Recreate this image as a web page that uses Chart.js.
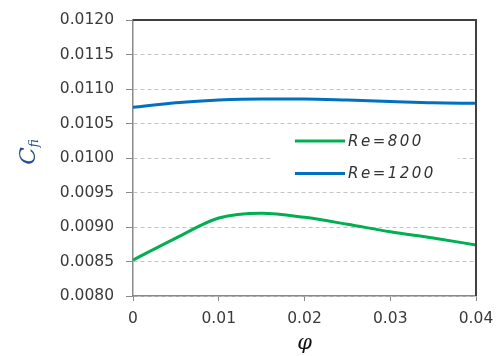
<!DOCTYPE html>
<html>
<head>
<meta charset="utf-8">
<script src="https://cdn.jsdelivr.net/npm/chart.js@4.4.1/dist/chart.umd.min.js"></script>
<style>
  html, body { margin: 0; padding: 0; background: #fff; }
  #wrap { width: 497px; height: 356px; position: relative; }
</style>
</head>
<body>
<div id="wrap"><canvas id="chart"></canvas></div>
<script>
// значения
const phi = [0, 0.005, 0.01, 0.015, 0.02, 0.025, 0.03, 0.035, 0.04];
const re800 = [0.00852, 0.00884, 0.00913, 0.00920, 0.00914, 0.00904, 0.00893, 0.00884, 0.00874];
const re1200 = [0.010735, 0.01080, 0.01084, 0.010855, 0.010855, 0.01084, 0.01082, 0.01080, 0.010793];
const seriesNames = ['Re=800', 'Re=1200'];
const seriesColors = ['#00b050', '#0070c0'];

const toPoints = (ys) => ys.map((y, i) => ({ x: phi[i], y: y }));

// рамка, подписи осей и легенда
const decor = {
    id: 'decor',
    afterDraw(chart) {
        const ctx = chart.ctx;
        const a = chart.chartArea;
        ctx.save();

        // верхняя и правая тёмная рамка
        ctx.strokeStyle = '#404040';
        ctx.lineWidth = 2;
        ctx.beginPath();
        ctx.moveTo(a.left, a.top);
        ctx.lineTo(a.right, a.top);
        ctx.lineTo(a.right, a.bottom);
        ctx.stroke();

        // легенда
        ctx.fillStyle = '#ffffff';
        ctx.fillRect(272, 126, 186, 62);
        chart.data.datasets.forEach((ds, i) => {
            const y = 141 + i * 32.5;
            ctx.strokeStyle = ds.borderColor;
            ctx.lineWidth = 3;
            ctx.beginPath();
            ctx.moveTo(295, y);
            ctx.lineTo(345, y);
            ctx.stroke();
            ctx.fillStyle = '#333333';
            ctx.font = 'italic 15px "DejaVu Sans"';
            ctx.letterSpacing = '2.5px';
            ctx.textAlign = 'left';
            ctx.textBaseline = 'middle';
            ctx.fillText(ds.label, 348, y + 1);
        });
        ctx.letterSpacing = '0px';

        // подпись оси X
        ctx.fillStyle = '#111111';
        ctx.font = 'italic 21px "DejaVu Serif"';
        ctx.textAlign = 'center';
        ctx.textBaseline = 'middle';
        ctx.fillText('φ', (a.left + a.right) / 2, 344);

        // подпись оси Y: C с индексом fi
        ctx.translate(28, 152);
        ctx.rotate(-Math.PI / 2);
        ctx.fillStyle = '#1f4e9a';
        ctx.textAlign = 'left';
        ctx.textBaseline = 'alphabetic';
        ctx.font = 'italic 23px "DejaVu Serif"';
        const cw = ctx.measureText('C').width;
        ctx.font = 'italic 12px "DejaVu Serif"';
        const sw = ctx.measureText('fi').width;
        const start = -(cw + sw) / 2;
        ctx.font = 'italic 23px "DejaVu Serif"';
        ctx.fillText('C', start, 7);
        ctx.font = 'italic 12px "DejaVu Serif"';
        ctx.fillText('fi', start + cw, 10);

        ctx.restore();
    }
};

new Chart(document.getElementById('chart'), {
    type: 'line',
    data: {
        datasets: [
            {
                label: seriesNames[0],
                data: toPoints(re800),
                borderColor: seriesColors[0],
                borderWidth: 3,
                pointRadius: 0,
                cubicInterpolationMode: 'monotone',
                fill: false
            },
            {
                label: seriesNames[1],
                data: toPoints(re1200),
                borderColor: seriesColors[1],
                borderWidth: 3,
                pointRadius: 0,
                cubicInterpolationMode: 'monotone',
                fill: false
            }
        ]
    },
    options: {
        responsive: true,
        maintainAspectRatio: false,
        animation: false,
        layout: { padding: { top: 20, right: 21, left: 0, bottom: 0 } },
        plugins: {
            legend: { display: false },
            tooltip: { enabled: false }
        },
        scales: {
            x: {
                type: 'linear',
                min: 0,
                max: 0.04,
                afterFit: (s) => {
                    s.height = 60;
                    s.paddingLeft = 0;
                    s.paddingRight = 0;
                },
                ticks: {
                    stepSize: 0.01,
                    padding: 9,
                    color: '#3a3a3a',
                    font: { family: 'DejaVu Sans', size: 15.5 },
                    callback: (v) => v === 0 ? '0' : v.toFixed(2)
                },
                grid: {
                    drawOnChartArea: false,
                    tickLength: 5,
                    tickColor: '#8a8a8a'
                },
                border: { color: '#8a8a8a', width: 1.5 }
            },
            y: {
                min: 0.008,
                max: 0.012,
                afterFit: (s) => {
                    s.width = 133;
                    s.paddingTop = 0;
                    s.paddingBottom = 0;
                },
                ticks: {
                    stepSize: 0.0005,
                    padding: 12,
                    color: '#3a3a3a',
                    font: { family: 'DejaVu Sans', size: 15.5 },
                    callback: (v) => v.toFixed(4)
                },
                grid: {
                    tickLength: 7,
                    color: (c) => (c.tick && Math.abs(c.tick.value - 0.012) < 1e-9) ? 'rgba(0,0,0,0)' : '#c4c4c4',
                    tickColor: '#8a8a8a'
                },
                border: { color: '#8a8a8a', width: 1.5, dash: [4, 3] }
            }
        }
    },
    plugins: [decor]
});
</script>
</body>
</html>
